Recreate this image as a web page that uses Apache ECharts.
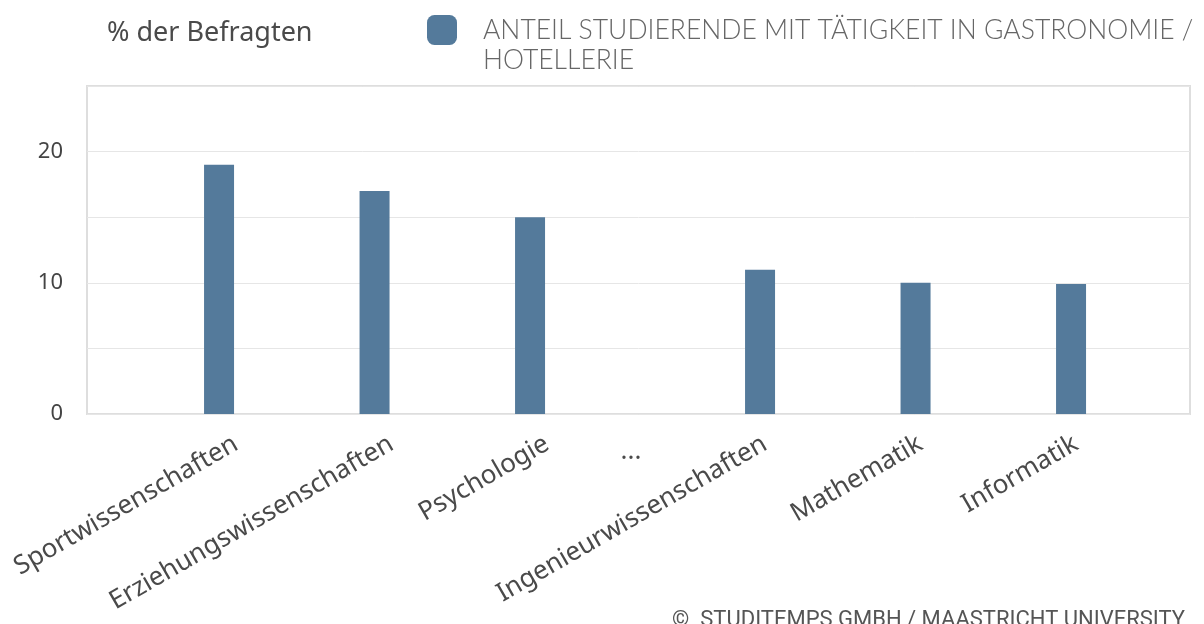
<!DOCTYPE html>
<html>
<head>
<meta charset="utf-8">
<script src="https://cdn.jsdelivr.net/npm/echarts@6/dist/echarts.min.js"></script>
<style>
  html, body { margin: 0; padding: 0; background: #ffffff; }
  #chart { width: 1204px; height: 624px; }
</style>
</head>
<body>
<div id="chart"></div>
<script>
// Subjects, in chart order; '...' marks the omitted subjects in between
const categories = [
  'Sportwissenschaften',
  'Erziehungswissenschaften',
  'Psychologie',
  '...',
  'Ingenieurwissenschaften',
  'Mathematik',
  'Informatik'
];
// Share of students working in gastronomy / hotel trade (%)
const shares = [19, 17, 15, null, 11, 10, 9.9];
const seriesName = 'ANTEIL STUDIERENDE MIT TÄTIGKEIT IN GASTRONOMIE / HOTELLERIE';
const yTicks = [0, 10, 20];

// split around the gap marker
const gapIdx = categories.indexOf('...');
const leftCats = categories.slice(0, gapIdx);
const leftVals = shares.slice(0, gapIdx);
const rightCats = categories.slice(gapIdx + 1);
const rightVals = shares.slice(gapIdx + 1);

const chart = echarts.init(document.getElementById('chart'));

const barColor = '#547a9b';
const plotTop = 86, plotHeight = 328;

const catLabel = {
  interval: 0,
  rotate: 30,
  margin: 28,
  fontFamily: 'Noto Sans',
  fontSize: 26,
  color: '#4a4a4a'
};

function catAxis(gridIndex, data, label) {
  return {
    gridIndex: gridIndex,
    type: 'category',
    data: data,
    axisLine: { show: false },
    axisTick: { show: false },
    axisLabel: label
  };
}

function hiddenY(gridIndex) {
  return { gridIndex: gridIndex, type: 'value', min: 0, max: 25, show: false };
}

const option = {
  animation: false,
  title: [
    {
      text: '% der Befragten',
      left: 102,
      top: 15,
      textStyle: { fontFamily: 'Noto Sans', fontSize: 27, fontWeight: 'normal', color: '#4a4a4a' }
    },
    {
      text: '©  STUDITEMPS GMBH / MAASTRICHT UNIVERSITY',
      right: 14,
      top: 604,
      textStyle: { fontFamily: 'Roboto', fontSize: 22, fontWeight: 'normal', color: '#555555' }
    }
  ],
  legend: {
    data: [seriesName],
    left: 427,
    top: -15,
    padding: 0,
    itemWidth: 30,
    itemHeight: 30,
    itemGap: 0,
    icon: 'roundRect',
    // empty first line keeps the swatch level with the first text line
    formatter: (name) => '\n' + name,
    textStyle: {
      fontFamily: 'Lato',
      fontWeight: 300,
      fontSize: 26.5,
      color: '#666666',
      width: 740,
      overflow: 'break',
      lineHeight: 30,
      padding: [0, 0, 0, 21]
    }
  },
  grid: [
    // frame with the value scale
    { left: 87, top: plotTop, width: 1103, height: plotHeight, show: true, borderColor: '#dedede', borderWidth: 2 },
    // left group of subjects
    { left: 158.25, top: plotTop, width: 466.5, height: plotHeight },
    // gap marker
    { left: 608, top: plotTop, width: 46, height: plotHeight },
    // right group of subjects
    { left: 687.25, top: plotTop, width: 466.5, height: plotHeight }
  ],
  xAxis: [
    { gridIndex: 0, type: 'value', show: false },
    catAxis(1, leftCats, catLabel),
    catAxis(2, [categories[gapIdx]], Object.assign({}, catLabel, { rotate: 0, margin: 25 })),
    catAxis(3, rightCats, catLabel)
  ],
  yAxis: [
    {
      gridIndex: 0,
      type: 'value',
      min: 0,
      max: 25,
      interval: 5,
      axisLine: { show: false },
      axisTick: { show: false },
      splitLine: { lineStyle: { color: '#e6e6e6', width: 1 } },
      axisLabel: {
        margin: 24,
        fontFamily: 'Noto Sans',
        fontSize: 22,
        color: '#444444',
        formatter: (v) => (yTicks.includes(v) ? String(v) : '')
      }
    },
    hiddenY(1),
    hiddenY(2),
    hiddenY(3)
  ],
  series: [
    {
      name: seriesName,
      type: 'bar',
      xAxisIndex: 1,
      yAxisIndex: 1,
      data: leftVals,
      barWidth: 30,
      barGap: '13%',
      itemStyle: { color: barColor }
    },
    {
      name: 'spacer-left',
      type: 'bar',
      xAxisIndex: 1,
      yAxisIndex: 1,
      data: [],
      barWidth: 30,
      barGap: '13%'
    },
    {
      name: seriesName,
      type: 'bar',
      xAxisIndex: 3,
      yAxisIndex: 3,
      data: rightVals,
      barWidth: 30,
      barGap: '-67%',
      itemStyle: { color: barColor }
    },
    {
      name: 'spacer-right',
      type: 'bar',
      xAxisIndex: 3,
      yAxisIndex: 3,
      data: [],
      barWidth: 30,
      barGap: '-67%'
    }
  ]
};

chart.setOption(option);
</script>
</body>
</html>
